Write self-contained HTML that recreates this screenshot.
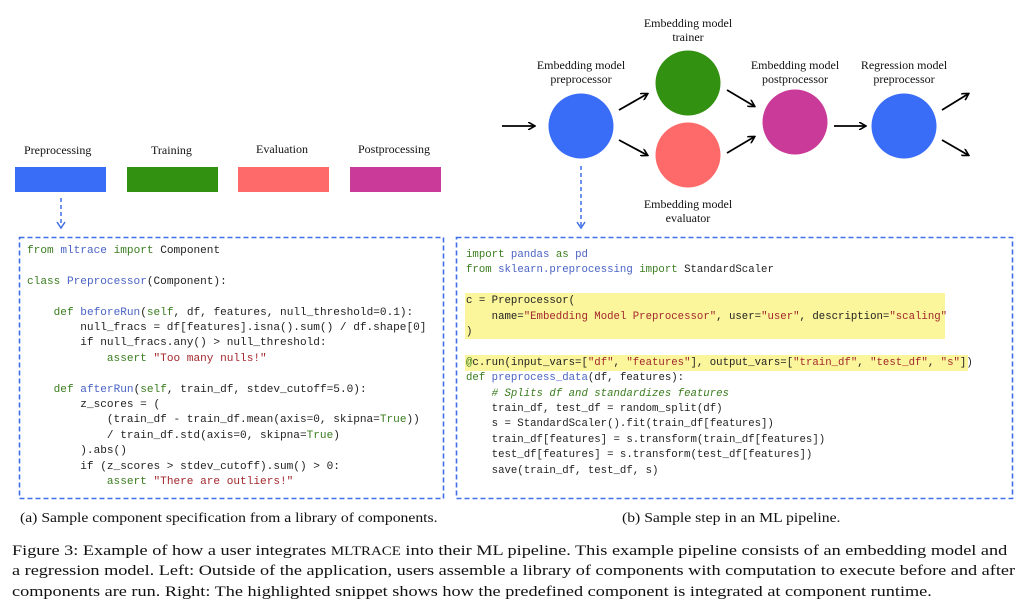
<!DOCTYPE html>
<html><head><meta charset="utf-8"><style>
body{margin:0;width:1023px;height:609px;background:#fff;position:relative;overflow:hidden;font-family:"Liberation Serif",serif;color:#111}
.a{position:absolute;white-space:pre}
.c{position:absolute;white-space:pre;font-family:"Liberation Mono",monospace;font-size:11.1px;line-height:15.4px;color:#222}
.k{color:#3a7d1e}.n{color:#4a63c4}.s{color:#a3282c}.m{font-style:italic;color:#3a7d1e}
.lab{position:absolute;font-size:12px;text-align:center;line-height:14px;transform:translateX(-50%)}
.hl{background:#fbf59b}
</style></head><body>
<svg width="1023" height="609" style="position:absolute;left:0;top:0">
<defs><marker id="ar" markerWidth="8" markerHeight="8" refX="6" refY="4" orient="auto" markerUnits="userSpaceOnUse"><path d="M0,0 L7,4 L0,8" fill="none" stroke="#000" stroke-width="1.6"/></marker></defs>
<rect x="15" y="167" width="91" height="25" fill="#3a6df7"/>
<rect x="127" y="167" width="91" height="25" fill="#339111"/>
<rect x="238" y="167" width="91" height="25" fill="#fd6a69"/>
<rect x="350" y="167" width="91" height="25" fill="#ca3a98"/>
<line x1="61" y1="198" x2="61" y2="226" stroke="#3f6ee8" stroke-width="1.5" stroke-dasharray="4,3"/>
<path d="M57,222 L61,228 L65,222" fill="none" stroke="#3f6ee8" stroke-width="1.5"/>
<line x1="581" y1="166" x2="581" y2="226" stroke="#3f6ee8" stroke-width="1.5" stroke-dasharray="4,3"/>
<path d="M577,222 L581,228 L585,222" fill="none" stroke="#3f6ee8" stroke-width="1.5"/>
<rect x="19.5" y="237.5" width="424" height="261" fill="none" stroke="#3f6ee8" stroke-width="1.6" stroke-dasharray="5,3"/>
<rect x="456.5" y="237.5" width="556" height="261" fill="none" stroke="#3f6ee8" stroke-width="1.6" stroke-dasharray="5,3"/>
<circle cx="581" cy="126" r="32.5" fill="#3a6df7"/>
<circle cx="688" cy="83" r="32.5" fill="#339111"/>
<circle cx="688" cy="155" r="32.5" fill="#fd6a69"/>
<circle cx="795" cy="122" r="32.5" fill="#ca3a98"/>
<circle cx="904" cy="126" r="32.5" fill="#3a6df7"/>
<g stroke="#000" stroke-width="1.8" marker-end="url(#ar)">
<line x1="502" y1="126" x2="534" y2="126"/>
<line x1="619" y1="110" x2="647" y2="94"/>
<line x1="619" y1="140" x2="647" y2="155"/>
<line x1="727" y1="90" x2="754" y2="106"/>
<line x1="727" y1="153" x2="754" y2="137"/>
<line x1="834" y1="126" x2="865" y2="126"/>
<line x1="942" y1="110" x2="968" y2="94"/>
<line x1="942" y1="140" x2="968" y2="155"/>
</g>
</svg>
<div class="a" style="left:24px;top:143px;font-size:12px">Preprocessing</div>
<div class="a" style="left:151px;top:143px;font-size:12px">Training</div>
<div class="a" style="left:256px;top:142px;font-size:12px">Evaluation</div>
<div class="a" style="left:358px;top:142px;font-size:12px">Postprocessing</div>
<div class="lab" style="left:581px;top:58px">Embedding model<br>preprocessor</div>
<div class="lab" style="left:688px;top:16px">Embedding model<br>trainer</div>
<div class="lab" style="left:688px;top:197px">Embedding model<br>evaluator</div>
<div class="lab" style="left:795px;top:58px">Embedding model<br>postprocessor</div>
<div class="lab" style="left:904px;top:58px">Regression model<br>preprocessor</div>
<div class="c" style="left:27px;top:244px"><span class="k">from</span> <span class="n">mltrace</span> <span class="k">import</span> Component

<span class="k">class</span> <span class="n">Preprocessor</span>(Component):

    <span class="k">def</span> <span class="n">beforeRun</span>(<span class="k">self</span>, df, features, null_threshold=0.1):
        null_fracs = df[features].isna().sum() / df.shape[0]
        if null_fracs.any() > null_threshold:
            <span class="k">assert</span> <span class="s">"Too many nulls!"</span>

    <span class="k">def</span> <span class="n">afterRun</span>(<span class="k">self</span>, train_df, stdev_cutoff=5.0):
        z_scores = (
            (train_df - train_df.mean(axis=0, skipna=<span class="k">True</span>))
            / train_df.std(axis=0, skipna=<span class="k">True</span>)
        ).abs()
        if (z_scores > stdev_cutoff).sum() > 0:
            <span class="k">assert</span> <span class="s">"There are outliers!"</span></div>
<div class="a hl" style="left:465px;top:293px;width:480px;height:46px"></div>
<div class="a hl" style="left:465px;top:355px;width:503px;height:16px"></div>
<div class="c" style="left:466px;top:248px;font-size:10.7px"><span class="k">import</span> <span class="n">pandas</span> <span class="k">as</span> <span class="n">pd</span>
<span class="k">from</span> <span class="n">sklearn.preprocessing</span> <span class="k">import</span> StandardScaler

c = Preprocessor(
    name=<span class="s">"Embedding Model Preprocessor"</span>, user=<span class="s">"user"</span>, description=<span class="s">"scaling"</span>
)

<span class="k">@</span>c.run(input_vars=[<span class="s">"df"</span>, <span class="s">"features"</span>], output_vars=[<span class="s">"train_df"</span>, <span class="s">"test_df"</span>, <span class="s">"s"</span>])
<span class="k">def</span> <span class="n">preprocess_data</span>(df, features):
    <span class="m"># Splits df and standardizes features</span>
    train_df, test_df = random_split(df)
    s = StandardScaler().fit(train_df[features])
    train_df[features] = s.transform(train_df[features])
    test_df[features] = s.transform(test_df[features])
    save(train_df, test_df, s)</div>
<div class="a" style="left:20px;top:511px;font-size:14px;transform:scaleX(1.12);transform-origin:0 0">(a) Sample component specification from a library of components.</div>
<div class="a" style="left:622px;top:511px;font-size:14px;transform:scaleX(1.12);transform-origin:0 0">(b) Sample step in an ML pipeline.</div>
<div class="a" style="left:12px;top:541px;font-size:15px;line-height:20.3px;transform:scaleX(1.215);transform-origin:0 0">Figure 3: Example of how a user integrates <span style="font-size:12.3px">MLTRACE</span> into their ML pipeline. This example pipeline consists of an embedding model and
a regression model. Left: Outside of the application, users assemble a library of components with computation to execute before and after
components are run. Right: The highlighted snippet shows how the predefined component is integrated at component runtime.</div>
</body></html>
